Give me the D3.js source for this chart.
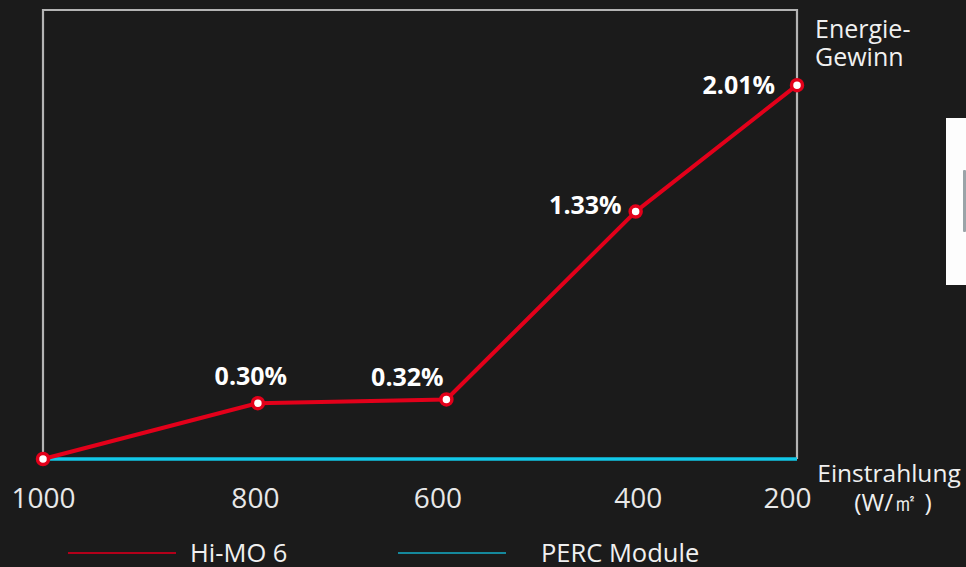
<!DOCTYPE html>
<html><head><meta charset="utf-8">
<script src="https://cdn.jsdelivr.net/npm/d3@7"></script>
<style>
html,body{margin:0;padding:0;background:#1b1b1b;}
svg{display:block;font-family:"Open Sans","Noto Sans",sans-serif;}
</style></head>
<body><svg id="c" width="966" height="567"></svg>
<script>
// ---- data ----
const irradiance = [1000, 800, 600, 400, 200];
const himo6Gain = [0, 0.30, 0.32, 1.33, 2.01];
const percGain = [0, 0, 0, 0, 0];
const gainLabels = [null, "0.30%", "0.32%", "1.33%", "2.01%"];
const tickLabels = ["1000", "800", "600", "400", "200"];
const seriesNames = ["Hi-MO 6", "PERC Module"];

// ---- layout ----
const svg = d3.select("#c");
const W = 966, H = 567;
const m = {left: 43, top: 10, right: 797, bottom: 459};
const pw = m.right - m.left;
const red = "#e3001a", cyan = "#12c8e8";

svg.append("rect").attr("width", W).attr("height", H).attr("fill", "#1b1b1b");

// piecewise x scale matching the uneven spacing of the original
const x = d3.scaleLinear()
  .domain(irradiance)
  .range([0, 0.285, 0.535, 0.786, 1].map(f => m.left + f * pw));
const y = d3.scaleLinear().domain([0, 2.414]).range([m.bottom, m.top]);

// frame
svg.append("path")
  .attr("d", `M${m.left},${m.bottom}V${m.top}H${m.right}V${m.bottom}`)
  .attr("fill", "none").attr("stroke", "#b4b4b4").attr("stroke-width", 2.2);

// PERC baseline
const line = d3.line().x((d, i) => x(irradiance[i])).y(d => y(d));
svg.append("path").datum(percGain).attr("d", line)
  .attr("fill", "none").attr("stroke", cyan).attr("stroke-width", 3.5);

// Hi-MO 6 line
svg.append("path").datum(himo6Gain).attr("d", line)
  .attr("fill", "none").attr("stroke", red).attr("stroke-width", 4)
  .attr("stroke-linejoin", "round");

svg.selectAll("circle.pt").data(himo6Gain).join("circle")
  .attr("class", "pt")
  .attr("cx", (d, i) => x(irradiance[i])).attr("cy", d => y(d))
  .attr("r", 5.5).attr("fill", "#fff").attr("stroke", red).attr("stroke-width", 3.5);

// value labels (offsets relative to points)
const labelOffsets = [null, [-7, -18], [-39, -13], [-14, 2], [-22, 9]];
const labelAnchors = [null, "middle", "middle", "end", "end"];
svg.selectAll("text.val").data(himo6Gain.map((d, i) => ({d, i})).filter(o => gainLabels[o.i]))
  .join("text").attr("class", "val")
  .attr("x", o => x(irradiance[o.i]) + labelOffsets[o.i][0])
  .attr("y", o => y(o.d) + labelOffsets[o.i][1])
  .attr("text-anchor", o => labelAnchors[o.i])
  .attr("fill", "#fff").attr("font-weight", "bold").attr("font-size", 25)
  .text(o => gainLabels[o.i]);

// x axis tick labels
const xAxis = d3.axisBottom(x).tickValues(irradiance).tickFormat((d, i) => tickLabels[i]).tickSize(0).tickPadding(0);
const ax = svg.append("g").attr("transform", `translate(0,${m.bottom + 49})`).call(xAxis);
ax.select(".domain").remove();
ax.selectAll("text").attr("fill", "#e8e8e8").attr("font-size", 28)
  .attr("font-family", "'Open Sans','Noto Sans',sans-serif")
  .attr("dy", 0)
  .attr("dx", (d, i) => [0, -3, -9, 2, -10][i]);

// axis titles
const titleColor = "#f0f0f0";
svg.append("text").attr("x", 815).attr("y", 38).attr("fill", titleColor).attr("font-size", 25).text("Energie-");
svg.append("text").attr("x", 815).attr("y", 66).attr("fill", titleColor).attr("font-size", 25).text("Gewinn");
svg.append("text").attr("x", 889).attr("y", 482).attr("text-anchor", "middle")
  .attr("fill", titleColor).attr("font-size", 24.5).text("Einstrahlung");
svg.append("text").attr("x", 893).attr("y", 511).attr("text-anchor", "middle")
  .attr("fill", titleColor).attr("font-size", 24.5).text("(W/㎡ )");

// legend
const legColors = ["#b3001a", "#15889c"];
const legX = [68, 398];
const lg = svg.selectAll("g.leg").data(seriesNames).join("g").attr("class", "leg")
  .attr("transform", (d, i) => `translate(${legX[i]},553)`);
lg.append("line").attr("x1", 0).attr("x2", 108).attr("stroke", (d, i) => legColors[i]).attr("stroke-width", 2);
lg.append("text").attr("x", (d, i) => i ? 143 : 122).attr("y", 9)
  .attr("fill", titleColor).attr("font-size", 25.5).text(d => d);

// cropped white panel at the right edge
svg.append("rect").attr("x", 946).attr("y", 118).attr("width", 20).attr("height", 167).attr("fill", "#fdfdfd");
svg.append("rect").attr("x", 963).attr("y", 170).attr("width", 3).attr("height", 62).attr("fill", "#9aa4a8").attr("rx", 1);
</script></body></html>
